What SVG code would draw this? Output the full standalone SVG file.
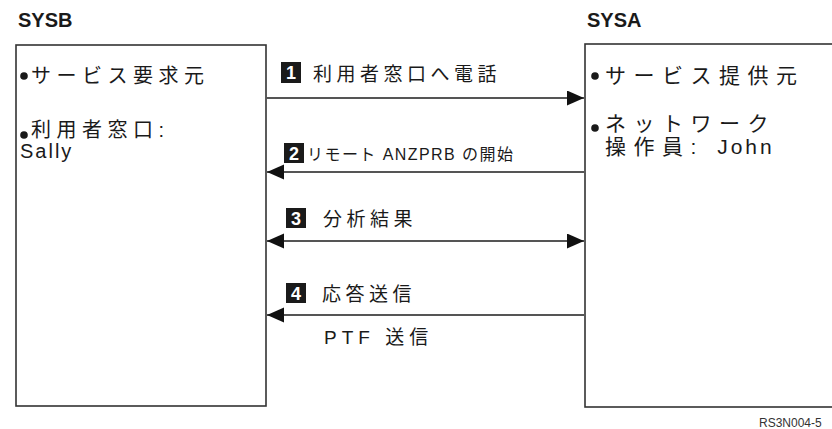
<svg xmlns="http://www.w3.org/2000/svg" width="832" height="429" viewBox="0 0 832 429">
<style>
.title{font-family:"Liberation Sans","Noto Sans CJK JP",sans-serif;font-weight:bold;font-size:20px;fill:#1a1a1a}
.box{fill:#fff;stroke:#333;stroke-width:1.6}
.t{font-family:"Liberation Sans","Noto Sans CJK JP",sans-serif;font-size:20px;fill:#1a1a1a;letter-spacing:5.5px}
.tr{font-family:"Liberation Sans","Noto Sans CJK JP",sans-serif;font-size:21px;fill:#1a1a1a;letter-spacing:7.5px}
.lbl{font-family:"Liberation Sans","Noto Sans CJK JP",sans-serif;font-size:19px;fill:#1a1a1a;letter-spacing:4.5px}
.sm{font-family:"Liberation Sans","Noto Sans CJK JP",sans-serif;font-size:16px;fill:#1a1a1a}
.num{fill:#1a1a1a}
.numt{font-family:"Liberation Sans",sans-serif;font-weight:bold;font-size:18px;fill:#fff;text-anchor:middle}
.conn{stroke:#555;stroke-width:1.8;fill:none}
.ref{font-family:"Liberation Sans",sans-serif;font-size:12px;fill:#333}
.dot{fill:#1a1a1a}
</style>
<defs>
<marker id="ah" markerUnits="userSpaceOnUse" markerWidth="18" markerHeight="16" refX="17" refY="7.5" orient="auto-start-reverse" viewBox="0 0 18 16">
<path d="M0,0 L17,7.5 L0,15 z" fill="#111"/>
</marker>
</defs>
<rect width="832" height="429" fill="#fff"/>
<g id="sysb">
<text class="title" x="18" y="27">SYSB</text>
<rect class="box" x="16" y="45" width="250" height="361"/>
<circle class="dot" cx="24" cy="76" r="3.8"/>
<text class="t" x="31" y="83">サービス要求元</text>
<circle class="dot" cx="24" cy="135" r="3.8"/>
<text class="t" x="31" y="137">利用者窓口:</text>
<text class="t" x="20" y="158" style="letter-spacing:2px">Sally</text>
</g>
<g id="sysa">
<text class="title" x="587" y="27">SYSA</text>
<rect class="box" x="585" y="44" width="260" height="363"/>
<circle class="dot" cx="595" cy="76" r="3.8"/>
<text class="tr" x="605" y="83">サービス提供元</text>
<circle class="dot" cx="595" cy="128" r="3.8"/>
<text class="tr" x="605" y="131">ネットワーク</text>
<text class="tr" x="605" y="154">操作員: <tspan style="letter-spacing:3px">John</tspan></text>
</g>
<g id="connectors">
<line class="conn" x1="266" y1="98" x2="584" y2="98" marker-end="url(#ah)"/>
<line class="conn" x1="584" y1="172" x2="267" y2="172" marker-end="url(#ah)"/>
<line class="conn" x1="267" y1="241" x2="584" y2="241" marker-start="url(#ah)" marker-end="url(#ah)"/>
<line class="conn" x1="584" y1="315" x2="267" y2="315" marker-end="url(#ah)"/>
</g>
<g id="label1">
<rect class="num" x="281" y="62" width="20" height="21"/>
<text class="numt" x="291" y="79">1</text>
<text class="lbl" x="313" y="81">利用者窓口へ電話</text>
</g>
<g id="label2">
<rect class="num" x="284" y="143" width="20" height="20"/>
<text class="numt" x="294" y="160">2</text>
<text class="sm" x="307" y="160" textLength="206">リモート ANZPRB の開始</text>
</g>
<g id="label3">
<rect class="num" x="286" y="208" width="20" height="20"/>
<text class="numt" x="296" y="225">3</text>
<text class="lbl" x="323" y="226">分析結果</text>
</g>
<g id="label4">
<rect class="num" x="286" y="283" width="20" height="20"/>
<text class="numt" x="296" y="300">4</text>
<text class="lbl" x="322" y="301">応答送信</text>
<text class="lbl" x="324" y="344" style="letter-spacing:5px">PTF 送信</text>
</g>
<text class="ref" x="759" y="427">RS3N004-5</text>
</svg>
